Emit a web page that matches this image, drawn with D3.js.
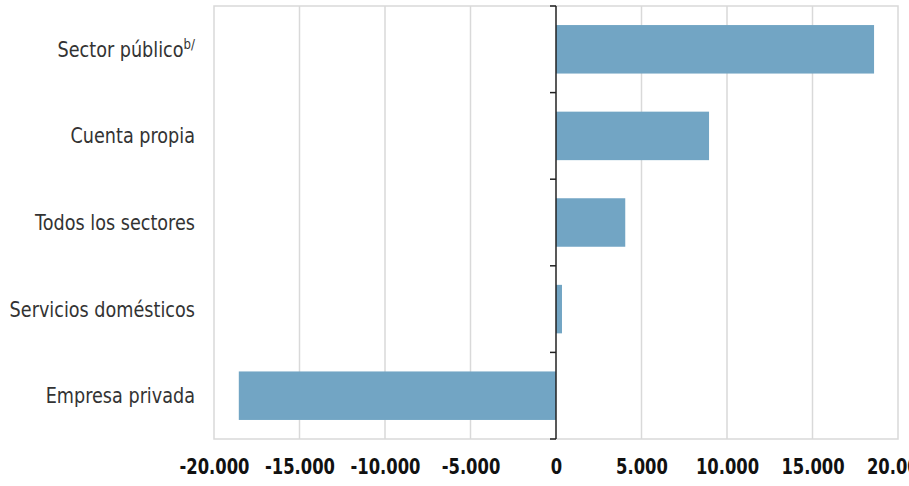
<!DOCTYPE html>
<meta charset="utf-8">
<html>
  <head>
    <title>Sectores</title>
    <style>
      html,body{
        margin:0;
        padding:0;
        background:#fff;
      }
      text{
        font-family: 'DejaVu Sans', sans-serif;
      }
      .cat-label{
        font-size: 21px;
        fill: #333;
      }
      .x-axis text{
        font-size: 21px;
        font-weight: 700;
        fill: #111;
      }
    </style>
  </head>
  <body>
    <svg xmlns="http://www.w3.org/2000/svg"></svg>

    <script src="https://d3js.org/d3.v7.min.js"></script>
    <script type="text/javascript">
      var width = 909, height = 486;

      // data, top to bottom
      var categories = ['Sector público', 'Cuenta propia', 'Todos los sectores', 'Servicios domésticos', 'Empresa privada'];
      var values = [18600, 8950, 4050, 350, -18550];
      var xTicks = [-20000, -15000, -10000, -5000, 0, 5000, 10000, 15000, 20000];
      var tickLabels = ['-20.000', '-15.000', '-10.000', '-5.000', '0', '5.000', '10.000', '15.000', '20.000'];

      var margin = {top: 6, right: 11, bottom: 47, left: 214};

      var svg = d3.select('svg')
        .attr('width', width)
        .attr('height', height);

      var x = d3.scaleLinear()
        .domain([-20000, 20000])
        .range([margin.left, width - margin.right]);

      var y = d3.scaleBand()
        .domain(categories)
        .range([margin.top, height - margin.bottom])
        .paddingInner(0.44)
        .paddingOuter(0.22);

      // plot border
      svg.append('rect')
        .attr('x', x(-20000))
        .attr('y', margin.top)
        .attr('width', x(20000) - x(-20000))
        .attr('height', height - margin.bottom - margin.top)
        .attr('fill', 'none')
        .attr('stroke', '#d9d9d9')
        .attr('stroke-width', 1.5);

      // vertical gridlines
      svg.append('g')
        .selectAll('line')
        .data(xTicks.filter(function(d){ return d !== 0 && Math.abs(d) !== 20000; }))
        .enter().append('line')
          .attr('x1', function(d){ return x(d); })
          .attr('x2', function(d){ return x(d); })
          .attr('y1', margin.top)
          .attr('y2', height - margin.bottom)
          .attr('stroke', '#d9d9d9')
          .attr('stroke-width', 1.5);

      // bars
      svg.append('g')
        .selectAll('rect')
        .data(values)
        .enter().append('rect')
          .attr('x', function(d){ return Math.min(x(0), x(d)); })
          .attr('y', function(d, i){ return y(categories[i]); })
          .attr('width', function(d){ return Math.abs(x(d) - x(0)); })
          .attr('height', y.bandwidth())
          .attr('fill', '#72a5c4');

      // zero axis with tick marks between categories
      var axisG = svg.append('g');
      axisG.append('line')
        .attr('x1', x(0)).attr('x2', x(0))
        .attr('y1', margin.top).attr('y2', height - margin.bottom)
        .attr('stroke', '#222')
        .attr('stroke-width', 1.5);

      var bounds = d3.range(categories.length + 1).map(function(i){
        return margin.top + (height - margin.bottom - margin.top) * i / categories.length;
      });
      axisG.selectAll('line.tick')
        .data(bounds)
        .enter().append('line')
          .attr('class', 'tick')
          .attr('x1', x(0) - 6).attr('x2', x(0))
          .attr('y1', function(d){ return d; })
          .attr('y2', function(d){ return d; })
          .attr('stroke', '#222')
          .attr('stroke-width', 1.5);

      // category labels (squeezed to look like a condensed face)
      var labels = svg.append('g')
        .selectAll('g')
        .data(categories)
        .enter().append('g')
          .attr('transform', function(d){ return 'translate(195,' + (y(d) + y.bandwidth() / 2) + ')'; })
        .append('text')
          .attr('class', 'cat-label')
          .attr('transform', 'scale(0.84,1)')
          .attr('dy', '0.36em')
          .attr('text-anchor', 'end')
          .text(function(d){ return d; });

      labels.filter(function(d){ return d === 'Sector público'; })
        .append('tspan')
          .attr('dy', '-0.55em')
          .style('font-size', '14px')
          .text('b/');

      // x axis labels
      var xAxis = d3.axisBottom(x)
        .tickValues(xTicks)
        .tickSize(0)
        .tickFormat(function(d, i){ return tickLabels[i]; });

      svg.append('g')
        .attr('class', 'x-axis')
        .attr('transform', 'translate(0,' + (height - margin.bottom + 17) + ')')
        .call(xAxis)
        .call(function(g){ g.select('.domain').remove(); })
        .call(function(g){ g.selectAll('text').attr('transform', 'scale(0.78,1)'); });
    </script>
  </body>
</html>
